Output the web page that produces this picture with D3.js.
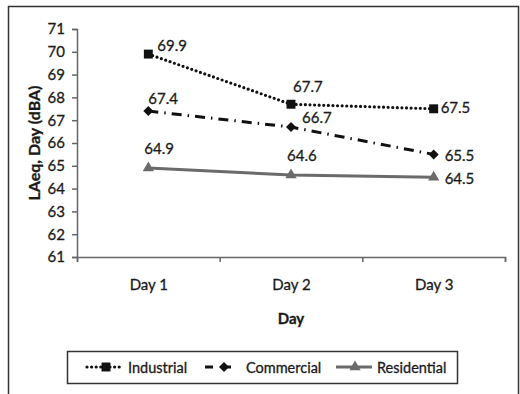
<!DOCTYPE html>
<html>
<head>
<meta charset="utf-8">
<script src="https://cdn.jsdelivr.net/npm/d3@7"></script>
<style>
  html, body { margin: 0; padding: 0; background: #fff; }
  svg { display: block; }
  text { font-family: Lato, "Liberation Sans", sans-serif; fill: #1a1a1a; stroke: #1a1a1a; stroke-width: 0.3px; }
</style>
</head>
<body>
<svg id="chart" width="520" height="394"></svg>
<script>
// Daytime equivalent sound levels at three land-use zones
const days = ["Day 1", "Day 2", "Day 3"];
const industrial = [69.9, 67.7, 67.5];
const commercial = [67.4, 66.7, 65.5];
const residential = [64.9, 64.6, 64.5];
const yTicks = [61, 62, 63, 64, 65, 66, 67, 68, 69, 70, 71];

const svg = d3.select("#chart");
const FS = 15;

// frame around the figure
svg.append("rect")
  .attr("x", 8.5).attr("y", 6.5)
  .attr("width", 510).attr("height", 400)
  .attr("fill", "none").attr("stroke", "#333").attr("stroke-width", 1.5);

const plot = { left: 77, right: 505, top: 29, bottom: 257 };

const y = d3.scaleLinear().domain([61, 71]).range([plot.bottom, plot.top]);
const x = d3.scalePoint().domain(days).range([plot.left, plot.right]).padding(0.5);
const xEdges = d3.scaleLinear().domain([0, days.length]).range([plot.left, plot.right]);

// y axis
const yAxis = svg.append("g")
  .attr("transform", `translate(${plot.left},0)`)
  .call(d3.axisLeft(y).tickValues(yTicks).tickFormat(d3.format("d")).tickSizeOuter(0).tickSize(5).tickPadding(7));
yAxis.selectAll("text").attr("font-size", FS);

// x axis: tick marks between categories, labels at category centres
const xAxis = svg.append("g")
  .attr("transform", `translate(0,${plot.bottom})`)
  .call(d3.axisBottom(xEdges).tickValues(d3.range(days.length + 1)).tickFormat("").tickSizeOuter(0).tickSize(5));
const xLabels = svg.append("g")
  .attr("transform", `translate(0,${plot.bottom})`)
  .call(d3.axisBottom(x).tickSize(0).tickPadding(22));
xLabels.select(".domain").remove();
xLabels.selectAll("text").attr("font-size", FS);

[yAxis, xAxis].forEach(g => {
  g.select(".domain").attr("stroke", "#666").attr("stroke-width", 1.5);
  g.selectAll(".tick line").attr("stroke", "#666").attr("stroke-width", 1.5);
});

// axis titles
svg.append("text")
  .attr("transform", `translate(33,${(plot.top + plot.bottom) / 2}) rotate(-90)`)
  .attr("text-anchor", "middle").attr("dominant-baseline", "central")
  .attr("font-size", 16).attr("font-weight", "bold")
  .text("LAeq, Day (dBA)");
svg.append("text")
  .attr("x", (plot.left + plot.right) / 2).attr("y", 318)
  .attr("text-anchor", "middle").attr("dominant-baseline", "central")
  .attr("font-size", FS).attr("font-weight", "bold")
  .text("Day");

// wide diamond marker
const wideDiamond = {
  draw(ctx, size) {
    const r = Math.sqrt(size / 2);
    ctx.moveTo(0, -r); ctx.lineTo(r, 0); ctx.lineTo(0, r); ctx.lineTo(-r, 0); ctx.closePath();
  }
};

const series = [
  { name: "Industrial", values: industrial, color: "#111", width: 3.2, dash: "0,4.6", cap: "round",
    symbol: d3.symbolSquare, size: 80,
    dx: [9, 2, 7], dy: [-9, -18, -2] },
  { name: "Commercial", values: commercial, color: "#111", width: 3, dash: "10,6,1.5,6", cap: "butt",
    symbol: wideDiamond, size: 50,
    dx: [0, 11, 11], dy: [-13, -10, 1] },
  { name: "Residential", values: residential, color: "#6b6b6b", width: 3, dash: null, cap: "butt",
    symbol: d3.symbolTriangle, size: 55,
    dx: [-4, -4, 11], dy: [-20, -20, 1] }
];

const line = d3.line().x((d, i) => x(days[i])).y(d => y(d));

series.forEach(s => {
  const g = svg.append("g");
  g.append("path")
    .datum(s.values)
    .attr("d", line)
    .attr("fill", "none")
    .attr("stroke", s.color)
    .attr("stroke-width", s.width)
    .attr("stroke-linecap", s.cap)
    .attr("stroke-dasharray", s.dash);
  g.selectAll("path.mark")
    .data(s.values)
    .join("path")
    .attr("class", "mark")
    .attr("transform", (d, i) => `translate(${x(days[i])},${y(d)})`)
    .attr("d", d3.symbol().type(s.symbol).size(s.size))
    .attr("fill", s.color);
  g.selectAll("text")
    .data(s.values)
    .join("text")
    .attr("x", (d, i) => x(days[i]) + s.dx[i])
    .attr("y", (d, i) => y(d) + s.dy[i])
    .attr("dominant-baseline", "central")
    .attr("font-size", FS)
    .text(d => d3.format(".1f")(d));
});

// legend
const legend = svg.append("g");
legend.append("rect")
  .attr("x", 67.5).attr("y", 351.5).attr("width", 390).attr("height", 32)
  .attr("fill", "#fff").attr("stroke", "#333").attr("stroke-width", 1.5);
const legendPos = [87, 205, 336];
series.forEach((s, i) => {
  const lx = legendPos[i], ly = 367;
  legend.append("line")
    .attr("x1", lx).attr("x2", lx + 36).attr("y1", ly).attr("y2", ly)
    .attr("stroke", s.color).attr("stroke-width", s.width)
    .attr("stroke-linecap", s.cap)
    .attr("stroke-dasharray", i === 1 ? "8,10" : s.dash);
  legend.append("path")
    .attr("transform", `translate(${lx + 19},${ly})`)
    .attr("d", d3.symbol().type(s.symbol).size(s.size))
    .attr("fill", s.color);
  legend.append("text")
    .attr("x", lx + 41).attr("y", ly)
    .attr("dominant-baseline", "central")
    .attr("font-size", FS - 0.5)
    .text(s.name);
});
</script>
</body>
</html>
